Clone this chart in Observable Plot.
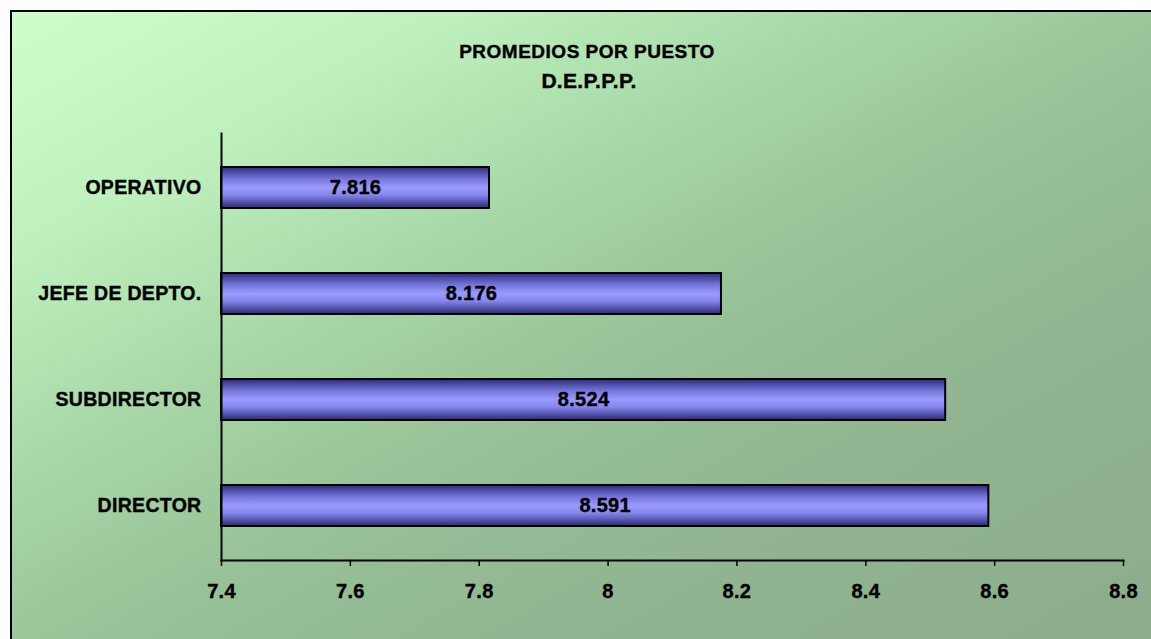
<!DOCTYPE html>
<html>
<head>
<meta charset="utf-8">
<script src="https://cdn.jsdelivr.net/npm/d3@7"></script>
<script src="https://cdn.jsdelivr.net/npm/@observablehq/plot@0.6"></script>
<style>
  html, body { margin: 0; padding: 0; background: #ffffff; width: 1151px; height: 639px; overflow: hidden; }
  #bg {
    position: absolute; left: 10px; top: 10px; width: 1141px; height: 629px;
    border-left: 2px solid #000; border-top: 2px solid #000; box-sizing: border-box;
    background: linear-gradient(to bottom right, #ccffcc 0%, #bdf0bd 20%, #a4d4a4 40%, #96c096 56%, #90b490 76%, #8cac8c 100%);
  }
  .title {
    position: absolute; transform: translateX(-50%); white-space: nowrap;
    font-family: "Liberation Sans", Arial, sans-serif; font-weight: bold; color: #000; line-height: 1;
    -webkit-text-stroke: 0.4px #000;
  }
  #t1 { left: 587px; top: 42px; font-size: 19px; letter-spacing: 0.5px; }
  #t2 { left: 589px; top: 70px; font-size: 21px; letter-spacing: 0.3px; }
  #chart { position: absolute; left: 0; top: 0; }
  #chart text { stroke: #000; stroke-width: 0.4px; paint-order: stroke; }
</style>
</head>
<body>
<div id="bg"></div>
<div id="chart"></div>
<div class="title" id="t1">PROMEDIOS POR PUESTO</div>
<div class="title" id="t2">D.E.P.P.P.</div>
<script>
const categories = ["OPERATIVO", "JEFE DE DEPTO.", "SUBDIRECTOR", "DIRECTOR"];
const values = [7.816, 8.176, 8.524, 8.591];
const valueLabels = ["7.816", "8.176", "8.524", "8.591"];
const xTicks = [7.4, 7.6, 7.8, 8.0, 8.2, 8.4, 8.6, 8.8];
const xTickLabels = ["7.4", "7.6", "7.8", "8", "8.2", "8.4", "8.6", "8.8"];
const xMin = 7.4, xMax = 8.8;

const data = categories.map((c, i) => ({category: c, value: values[i], label: valueLabels[i]}));

const svg = Plot.plot({
  width: 1151,
  height: 639,
  marginLeft: 221,
  marginRight: 28,
  marginTop: 133,
  marginBottom: 79,
  style: {
    background: "transparent",
    fontFamily: "'Liberation Sans', Arial, sans-serif",
    fontWeight: "bold",
    fontSize: "20px",
    letterSpacing: "0.3px",
    color: "#000"
  },
  x: {domain: [xMin, xMax], axis: null},
  y: {domain: categories, paddingInner: 0.615, paddingOuter: 0.3075, axis: null},
  marks: [
    Plot.barX(data, {
      y: "category", x1: () => xMin, x2: "value",
      fill: "url(#barGrad)", stroke: "#000", strokeWidth: 2
    }),
    Plot.text(data, {
      y: "category", x: d => (xMin + d.value) / 2, text: "label",
      fontSize: 20, fontWeight: "bold", fill: "#000"
    }),
    Plot.axisX({
      ticks: xTicks,
      tickFormat: (d) => xTickLabels[xTicks.indexOf(d)],
      tickSize: 6, tickPadding: 17, fontSize: 20, fontWeight: "bold",
      strokeWidth: 1.5, label: null
    }),
    Plot.axisY({
      tickSize: 0, tickPadding: 20, fontSize: 19.5, fontWeight: "bold", label: null
    }),
    Plot.frame({anchor: "bottom", strokeWidth: 2}),
    Plot.frame({anchor: "left", strokeWidth: 2})
  ]
});

const defs = d3.select(svg).insert("defs", ":first-child");
const grad = defs.append("linearGradient")
  .attr("id", "barGrad").attr("x1", 0).attr("y1", 0).attr("x2", 0).attr("y2", 1);
[[0, "#2a2a80"], [0.12, "#4a4aa6"], [0.3, "#7878dc"], [0.5, "#9a9aff"], [0.68, "#8686ec"], [0.85, "#5555b0"], [1, "#2a2a70"]]
  .forEach(([o, c]) => grad.append("stop").attr("offset", o).attr("stop-color", c));

document.getElementById("chart").appendChild(svg);
</script>
</body>
</html>
